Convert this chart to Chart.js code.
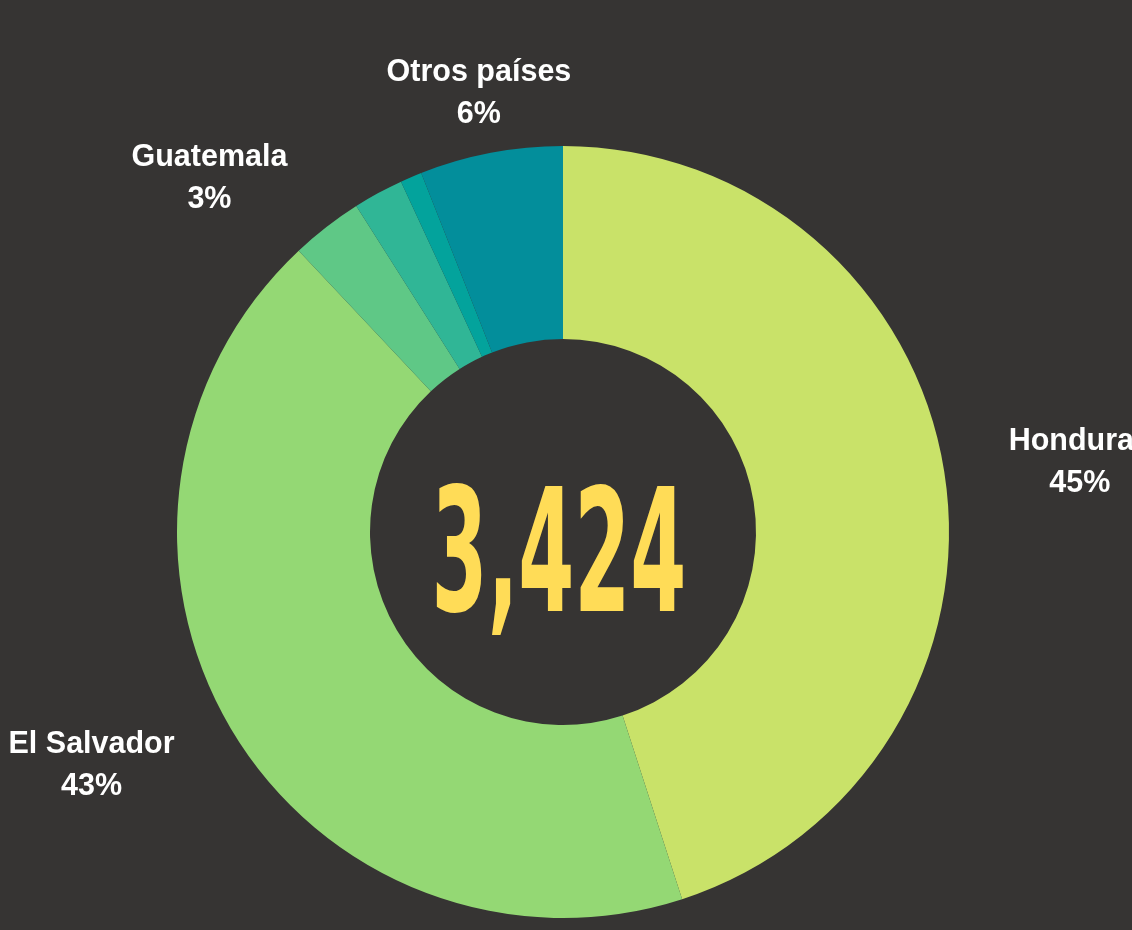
<!DOCTYPE html>
<html>
<head>
<meta charset="utf-8">
<script src="https://cdn.jsdelivr.net/npm/chart.js@4/dist/chart.umd.min.js"></script>
<style>
  html, body { margin: 0; padding: 0; background: #363433; }
  #wrap { width: 1132px; height: 930px; position: relative; }
</style>
</head>
<body>
<div id="wrap"><canvas id="c" width="1132" height="930"></canvas></div>
<script>
// ---- data ----
const categories = ['Honduras', 'El Salvador', 'Guatemala', 'Nicaragua', 'México', 'Otros países'];
const values = [1541, 1472, 103, 72, 31, 205];
const showLabel = [true, true, true, false, false, true];
const colors = ['#c9e269', '#94d874', '#5fc886', '#30b696', '#03a39c', '#038e9b'];
const centerTotal = '3,424';

// label placement style: radial distance factor and angular nudge (degrees)
const labelRadius = [1.352, 1.36, 1.3, 1.3, 1.3, 1.165];
const labelNudge = [1, 4.5, -7, 0, 0, 0];

const total = values.reduce((a, b) => a + b, 0);

const labelPlugin = {
  id: 'outerLabels',
  afterDatasetsDraw(chart) {
    const ctx = chart.ctx;
    const meta = chart.getDatasetMeta(0);
    ctx.save();
    ctx.fillStyle = '#ffffff';
    ctx.font = 'bold 30.5px "Liberation Sans", Arial, sans-serif';
    ctx.textAlign = 'center';
    ctx.textBaseline = 'middle';
    meta.data.forEach((arc, i) => {
      if (!showLabel[i]) return;
      const p = arc.getProps(['x', 'y', 'startAngle', 'endAngle', 'outerRadius'], true);
      const mid = (p.startAngle + p.endAngle) / 2 + labelNudge[i] * Math.PI / 180;
      const r = p.outerRadius * labelRadius[i];
      const x = p.x + Math.cos(mid) * r;
      const y = p.y + Math.sin(mid) * r;
      const pct = Math.round(values[i] / total * 100) + '%';
      ctx.fillText(categories[i], x, y - 18);
      ctx.fillText(pct, x, y + 24);
    });
    // center total
    const a0 = meta.data[0].getProps(['x', 'y', 'innerRadius'], true);
    const ir = a0.innerRadius;
    ctx.font = 'bold 100px "Liberation Sans Narrow", "DejaVu Sans Condensed", "Liberation Sans", sans-serif';
    ctx.textAlign = 'center';
    ctx.textBaseline = 'alphabetic';
    const m = ctx.measureText(centerTotal);
    const targetW = ir * 1.32;
    const targetH = ir * 0.665;
    const sx = targetW / m.width;
    const sy = targetH / m.actualBoundingBoxAscent;
    ctx.translate(a0.x - 4, a0.y + ir * 0.41);
    ctx.scale(sx, sy);
    ctx.fillStyle = '#ffdc57';
    ctx.fillText(centerTotal, 0, 0);
    ctx.restore();
  }
};

const bgPlugin = {
  id: 'bg',
  beforeDraw(chart) {
    const ctx = chart.ctx;
    ctx.save();
    ctx.fillStyle = '#363433';
    ctx.fillRect(0, 0, chart.width, chart.height);
    ctx.restore();
  }
};

new Chart(document.getElementById('c'), {
  type: 'doughnut',
  data: {
    labels: categories,
    datasets: [{
      data: values,
      backgroundColor: colors,
      borderWidth: 0
    }]
  },
  options: {
    responsive: false,
    animation: false,
    cutout: '50%',
    layout: { padding: { top: 146, bottom: 12, left: 0, right: 6 } },
    plugins: {
      legend: { display: false },
      tooltip: { enabled: false }
    }
  },
  plugins: [bgPlugin, labelPlugin]
});
</script>
</body>
</html>
